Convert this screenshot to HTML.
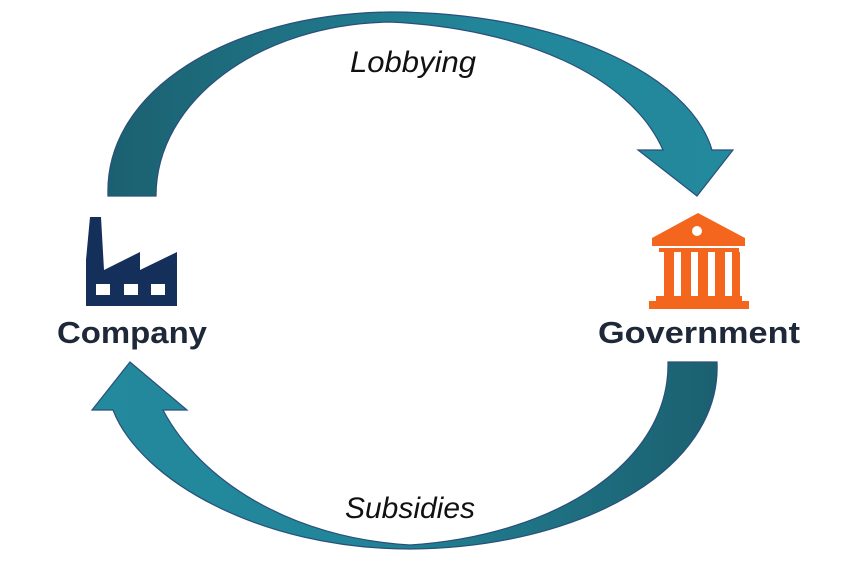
<!DOCTYPE html>
<html><head><style>
body{margin:0;background:#fff;}
svg{display:block}
text{font-family:"Liberation Sans",sans-serif;}
</style></head><body>
<svg width="842" height="567" viewBox="0 0 842 567" xmlns="http://www.w3.org/2000/svg">
<defs>
<linearGradient id="g1" x1="0" y1="0" x2="1" y2="0">
<stop offset="0" stop-color="#1b6070"/><stop offset="0.6" stop-color="#22869a"/><stop offset="1" stop-color="#23899c"/>
</linearGradient>
<linearGradient id="g2" x1="1" y1="0" x2="0" y2="0">
<stop offset="0" stop-color="#1b6070"/><stop offset="0.6" stop-color="#22869a"/><stop offset="1" stop-color="#23899c"/>
</linearGradient>
</defs>
<path d="M108,196 C104,90 230,14 390,12 C560,12 690,75 712,150 L733,150 L697,196 L638,150 L663,150 C630,75 520,28 390,22 C260,24 156,100 156,196 Z" fill="url(#g1)" stroke="#2a4f7a" stroke-width="1.2"/>
<path d="M717,362 C722,470 580,548 410,549 C260,549 140,480 113,410 L92,410 L130,362 L187,410 L163,410 C200,480 290,538 410,545 C560,535 670,460 668,362 Z" fill="url(#g2)" stroke="#2a4f7a" stroke-width="1.2"/>
<text x="413" y="72" font-size="30" font-style="italic" text-anchor="middle" fill="#111" textLength="126" lengthAdjust="spacingAndGlyphs">Lobbying</text>
<text x="410" y="518" font-size="30" font-style="italic" text-anchor="middle" fill="#111" textLength="130" lengthAdjust="spacingAndGlyphs">Subsidies</text>
<text x="132" y="343" font-size="31" font-weight="bold" text-anchor="middle" fill="#1e2838" textLength="150" lengthAdjust="spacingAndGlyphs">Company</text>
<text x="699" y="343" font-size="31" font-weight="bold" text-anchor="middle" fill="#1e2838" textLength="202" lengthAdjust="spacingAndGlyphs">Government</text>
<path d="M90,217 L101,217 L104,270 L140,252 L140,270 L177,252 L177,306 L86,306 L86,260 Z" fill="#142f5a"/>
<rect x="96" y="284" width="14" height="11" fill="#fff"/>
<rect x="124" y="284" width="14" height="11" fill="#fff"/>
<rect x="151" y="284" width="14" height="11" fill="#fff"/>
<g fill="#f4661e">
<path d="M698,213 L745,238 L745,246 L652,246 L652,238 Z"/>
<rect x="659" y="248" width="80" height="4"/>
<rect x="664" y="252" width="10" height="44"/>
<rect x="681" y="252" width="10" height="44"/>
<rect x="698" y="252" width="10" height="44"/>
<rect x="715" y="252" width="10" height="44"/>
<rect x="732" y="252" width="8" height="44"/>
<rect x="656" y="296" width="86" height="5"/>
<rect x="649" y="301" width="100" height="8"/>
</g>
<circle cx="697" cy="231" r="5" fill="#fff"/>
</svg>
</body></html>
